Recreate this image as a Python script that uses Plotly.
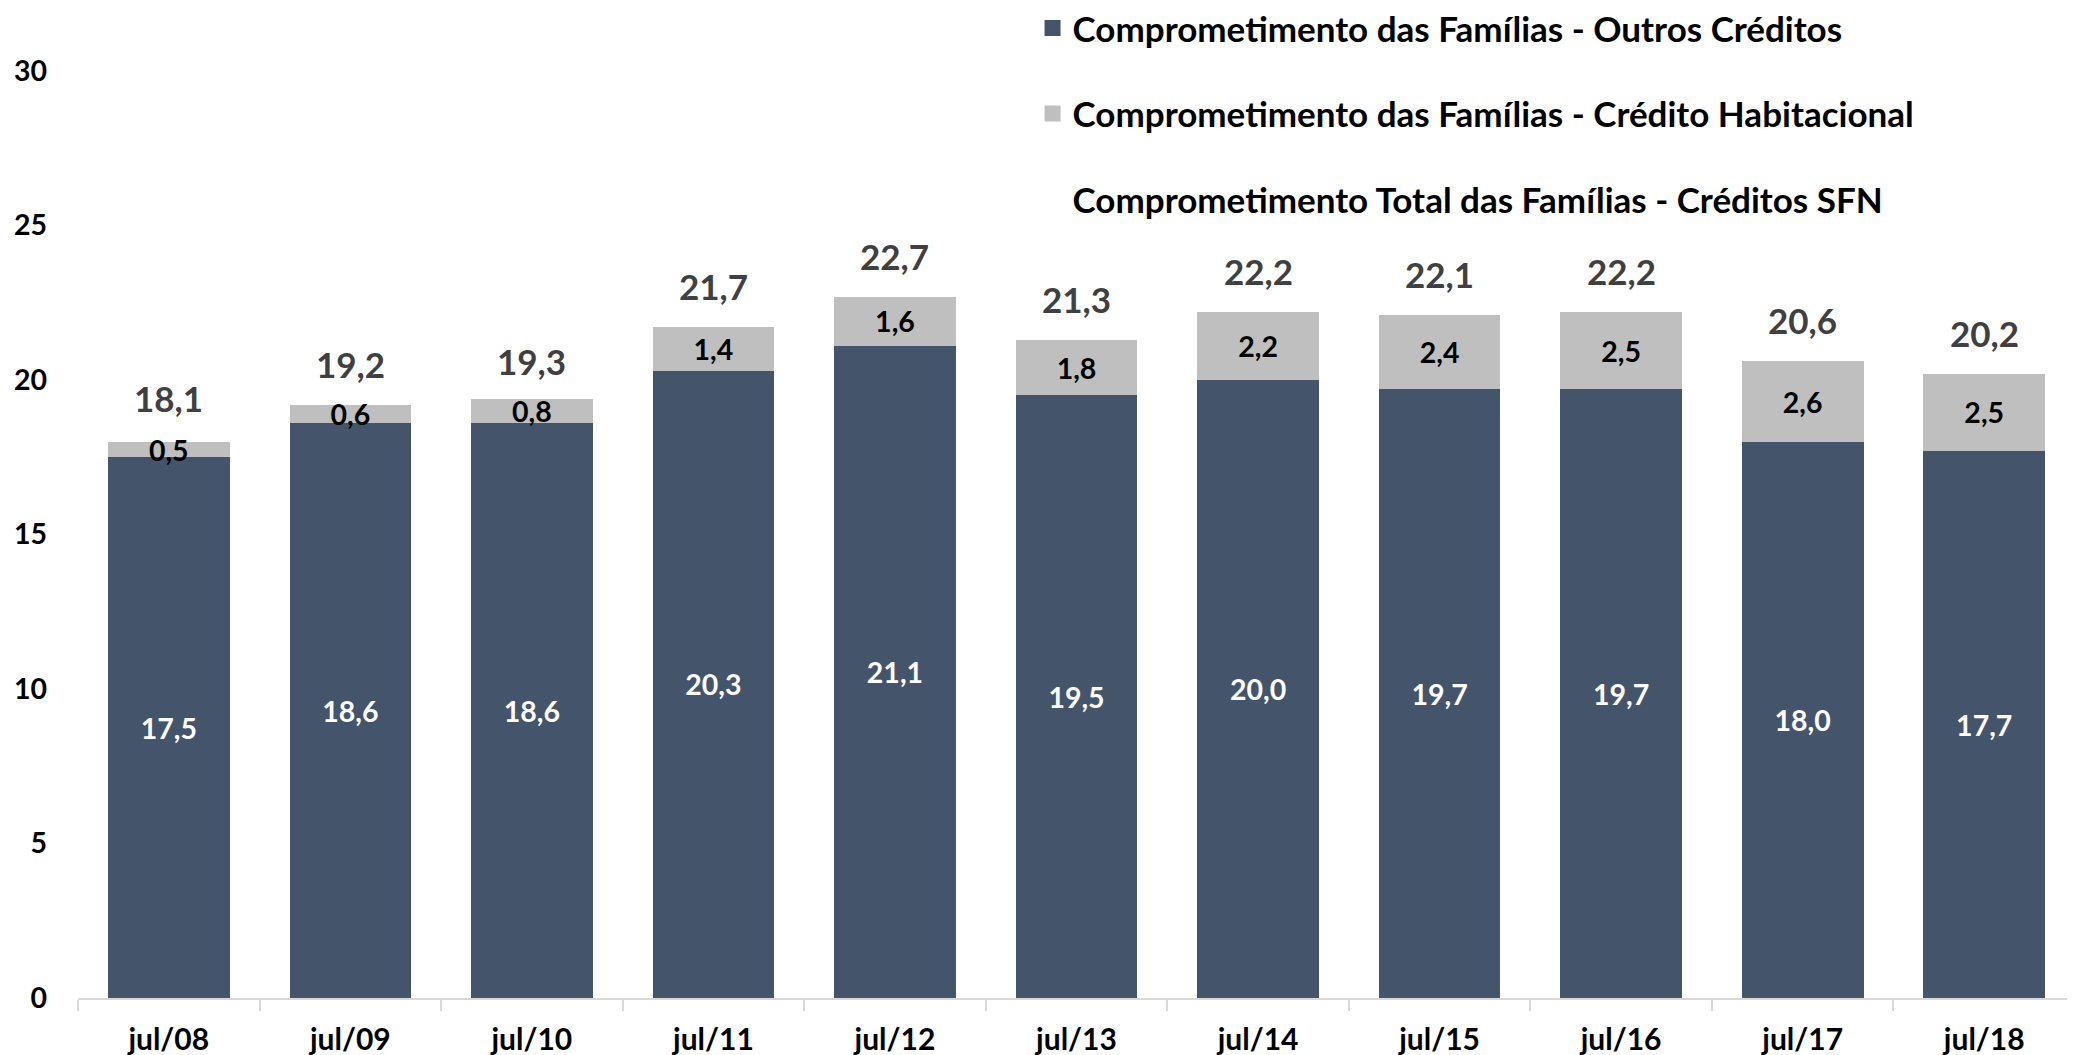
import plotly.graph_objects as go

categories = ["jul/08", "jul/09", "jul/10", "jul/11", "jul/12", "jul/13",
              "jul/14", "jul/15", "jul/16", "jul/17", "jul/18"]
outros = [17.5, 18.6, 18.6, 20.3, 21.1, 19.5, 20.0, 19.7, 19.7, 18.0, 17.7]
habitacional = [0.5, 0.6, 0.8, 1.4, 1.6, 1.8, 2.2, 2.4, 2.5, 2.6, 2.5]
total = [18.1, 19.2, 19.3, 21.7, 22.7, 21.3, 22.2, 22.1, 22.2, 20.6, 20.2]

y_ticks = [0, 5, 10, 15, 20, 25, 30]

NAME_OUTROS = "Comprometimento das Famílias - Outros Créditos"
NAME_HAB = "Comprometimento das Famílias - Crédito Habitacional"
NAME_TOTAL = "Comprometimento Total das Famílias - Créditos SFN"

FONT = "Lato, Calibri, Carlito, Liberation Sans"
DARK = "#44546a"
LIGHT = "#bfbfbf"

def br(v):
    return f"{v:.1f}".replace(".", ",")

fig = go.Figure()
fig.add_trace(go.Bar(
    x=categories, y=outros, name=NAME_OUTROS, showlegend=False,
    marker=dict(color=DARK, line=dict(width=0)),
    text=[br(v) for v in outros], textposition="inside", insidetextanchor="middle",
    textfont=dict(family=FONT, size=28.5, color="white", weight="bold"),
    cliponaxis=False,
))
fig.add_trace(go.Bar(
    x=categories, y=habitacional, name=NAME_HAB, showlegend=False,
    marker=dict(color=LIGHT, line=dict(width=0)),
    text=[br(v) for v in habitacional], textposition="inside", insidetextanchor="middle",
    textfont=dict(family=FONT, size=28.5, color="black", weight="bold"),
    cliponaxis=False,
))

# legend entries (square swatches like the reference)
fig.add_trace(go.Scatter(
    x=[None], y=[None], name=NAME_OUTROS, mode="markers",
    marker=dict(symbol="square", size=21, color=DARK), legendgroup="a",
))
fig.add_trace(go.Scatter(
    x=[None], y=[None], name=NAME_HAB, mode="markers",
    marker=dict(symbol="square", size=21, color=LIGHT), legendgroup="b",
))
fig.add_trace(go.Scatter(
    x=categories, y=total, name=NAME_TOTAL,
    mode="lines", line=dict(color="rgba(0,0,0,0)", width=0),
    legendgroup="c", hoverinfo="skip",
))

for c, t in zip(categories, total):
    fig.add_annotation(x=c, y=t, text=br(t), showarrow=False, yanchor="middle",
                       yshift=41,
                       font=dict(family=FONT, size=35, color="#404040", weight="bold"))

fig.update_layout(
    width=2067, height=1047,
    barmode="stack", bargap=0.33,
    plot_bgcolor="white", paper_bgcolor="white",
    margin=dict(l=70, r=0, t=63, b=57, autoexpand=False),
    font=dict(family=FONT, color="black"),
    uniformtext=dict(minsize=28.5, mode="show"),
    showlegend=True,
    legend=dict(
        x=0.478, y=1.078, xanchor="left", yanchor="top",
        traceorder="grouped", tracegroupgap=37,
        font=dict(family=FONT, size=35, color="black", weight="bold"),
        bgcolor="rgba(0,0,0,0)", itemwidth=30,
    ),
    xaxis=dict(
        showline=True, linecolor="#d9d9d9", linewidth=2,
        ticks="outside", tickson="boundaries", ticklen=11, tickcolor="#d9d9d9",
        tickwidth=2, ticklabelstandoff=14, automargin=False,
        tickfont=dict(family=FONT, size=30, color="black", weight="bold"),
        showgrid=False,
    ),
    yaxis=dict(
        range=[0, 30], tickvals=y_ticks, showgrid=False, zeroline=False,
        showline=False, ticks="", ticklabelstandoff=30, automargin=False,
        tickfont=dict(family=FONT, size=28.5, color="black", weight="bold"),
    ),
)

fig.write_html("out.html")
